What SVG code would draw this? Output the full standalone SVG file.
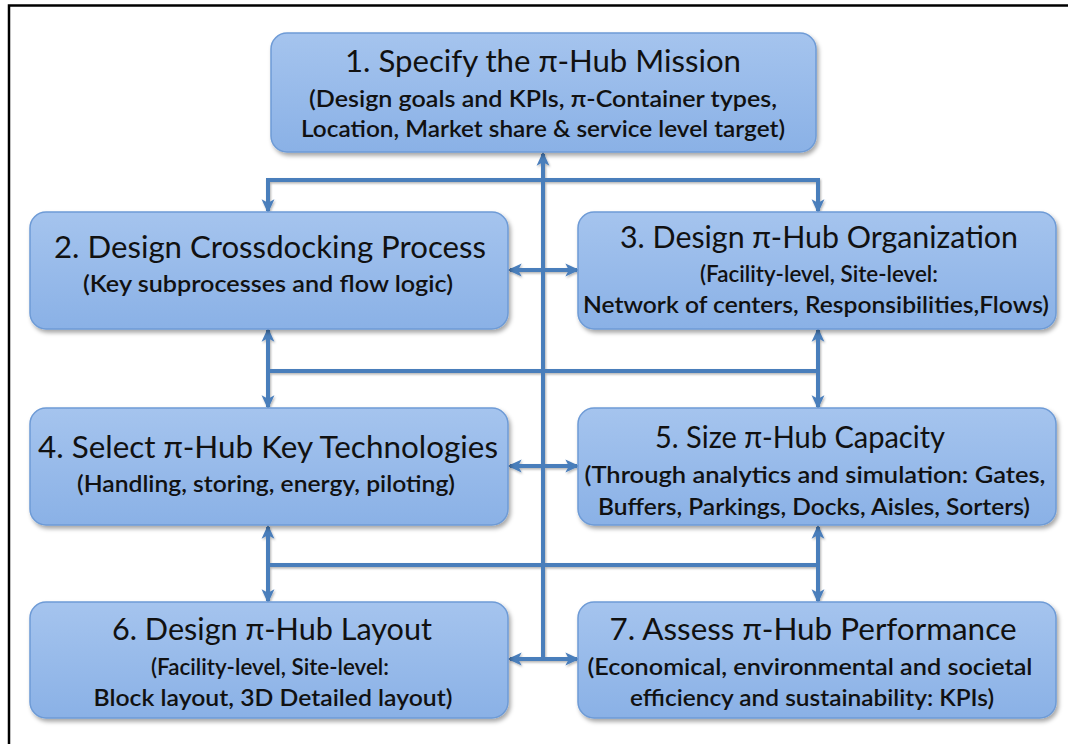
<svg xmlns="http://www.w3.org/2000/svg" width="1073" height="744" viewBox="0 0 1073 744">
<defs>
<linearGradient id="boxFill" x1="0" y1="0" x2="0" y2="1">
<stop offset="0" stop-color="#a5c4ee"/>
<stop offset="1" stop-color="#8ab1e6"/>
</linearGradient>
<filter id="shadow" x="-5%" y="-10%" width="115%" height="130%">
<feDropShadow dx="2" dy="3" stdDeviation="2" flood-color="#000" flood-opacity="0.35"/>
</filter>
<filter id="lshadow" x="-5%" y="-5%" width="110%" height="110%">
<feDropShadow dx="1" dy="1.5" stdDeviation="1" flood-color="#000" flood-opacity="0.3"/>
</filter>
<marker id="arr" viewBox="0 0 12 12" refX="10" refY="6" markerUnits="userSpaceOnUse" markerWidth="14" markerHeight="14" orient="auto-start-reverse">
<path d="M0,0.5 L12,6 L0,11.5 L3,6 z" fill="#4a7ebb"/>
</marker>
<style>
.box{fill:url(#boxFill);stroke:#6e9bd6;stroke-width:1.5;filter:url(#shadow)}
.t{font-family:Lato,"Liberation Sans",Arial,sans-serif;fill:#111;text-anchor:middle}
.h{font-size:30px;font-weight:400}
.s{font-size:22px;font-weight:600}
.c{fill:none;stroke:#4a7ebb;stroke-width:4}
.ab{marker-start:url(#arr);marker-end:url(#arr)}
.ae{marker-end:url(#arr)}
</style>
</defs>
<rect width="1073" height="744" fill="#fff"/>
<path d="M9,744 L9,5.5 L1068,5.5" fill="none" stroke="#000" stroke-width="2.5"/>

<g id="connectors" filter="url(#lshadow)">
<path class="c ae" d="M543,658 L543,154"/>
<path class="c ab" d="M268,211 L268,180 L818,180 L818,211"/>
<path class="c" d="M268,371 L818,371"/>
<path class="c ab" d="M268,330 L268,407"/>
<path class="c ab" d="M818,330 L818,407"/>
<path class="c" d="M268,565 L818,565"/>
<path class="c ab" d="M268,527 L268,601"/>
<path class="c ab" d="M818,527 L818,601"/>
<path class="c ab" d="M510,270 L577,270"/>
<path class="c ab" d="M510,466 L577,466"/>
<path class="c ab" d="M510,659 L577,659"/>
</g>

<g id="node1">
<rect class="box" x="271" y="33" width="545" height="119" rx="16"/>
<text class="t h" x="543" y="72" textLength="396" lengthAdjust="spacingAndGlyphs">1. Specify the π-Hub Mission</text>
<text class="t s" x="543" y="107" textLength="468" lengthAdjust="spacingAndGlyphs">(Design goals and KPIs, π-Container types,</text>
<text class="t s" x="543" y="137" textLength="484" lengthAdjust="spacingAndGlyphs">Location, Market share &amp; service level target)</text>
</g>

<g id="node2">
<rect class="box" x="30" y="212" width="478" height="117" rx="16"/>
<text class="t h" x="270" y="258" textLength="432" lengthAdjust="spacingAndGlyphs">2. Design Crossdocking Process</text>
<text class="t s" x="268" y="292" textLength="370" lengthAdjust="spacingAndGlyphs">(Key subprocesses and flow logic)</text>
</g>

<g id="node3">
<rect class="box" x="578" y="212" width="478" height="117" rx="16"/>
<text class="t h" x="819" y="248" textLength="398" lengthAdjust="spacingAndGlyphs">3. Design π-Hub Organization</text>
<text class="t s" x="819" y="282" textLength="238" lengthAdjust="spacingAndGlyphs">(Facility-level, Site-level:</text>
<text class="t s" x="816" y="313" textLength="466" lengthAdjust="spacingAndGlyphs">Network of centers, Responsibilities,Flows)</text>
</g>

<g id="node4">
<rect class="box" x="30" y="408" width="478" height="117" rx="16"/>
<text class="t h" x="268" y="458" textLength="460" lengthAdjust="spacingAndGlyphs">4. Select π-Hub Key Technologies</text>
<text class="t s" x="266" y="492" textLength="378" lengthAdjust="spacingAndGlyphs">(Handling, storing, energy, piloting)</text>
</g>

<g id="node5">
<rect class="box" x="578" y="408" width="478" height="117" rx="16"/>
<text class="t h" x="800" y="448" textLength="290" lengthAdjust="spacingAndGlyphs">5. Size π-Hub Capacity</text>
<text class="t s" x="815" y="483" textLength="461" lengthAdjust="spacingAndGlyphs">(Through analytics and simulation: Gates,</text>
<text class="t s" x="814" y="515" textLength="432" lengthAdjust="spacingAndGlyphs">Buffers, Parkings, Docks, Aisles, Sorters)</text>
</g>

<g id="node6">
<rect class="box" x="30" y="602" width="478" height="116" rx="16"/>
<text class="t h" x="272" y="640" textLength="320" lengthAdjust="spacingAndGlyphs">6. Design π-Hub Layout</text>
<text class="t s" x="270" y="675" textLength="238" lengthAdjust="spacingAndGlyphs">(Facility-level, Site-level:</text>
<text class="t s" x="273" y="706" textLength="359" lengthAdjust="spacingAndGlyphs">Block layout, 3D Detailed layout)</text>
</g>

<g id="node7">
<rect class="box" x="578" y="602" width="478" height="116" rx="16"/>
<text class="t h" x="813" y="640" textLength="407" lengthAdjust="spacingAndGlyphs">7. Assess π-Hub Performance</text>
<text class="t s" x="810" y="675" textLength="445" lengthAdjust="spacingAndGlyphs">(Economical, environmental and societal</text>
<text class="t s" x="812" y="706" textLength="364" lengthAdjust="spacingAndGlyphs">efficiency and sustainability: KPIs)</text>
</g>
</svg>
